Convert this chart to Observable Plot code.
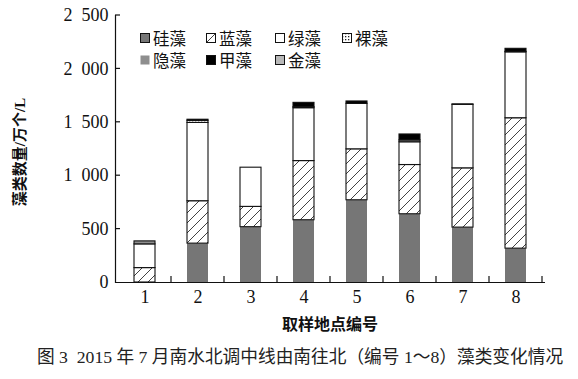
<!DOCTYPE html>
<html><head><meta charset="utf-8">
<script src="https://cdn.jsdelivr.net/npm/d3@7"></script>
<script src="https://cdn.jsdelivr.net/npm/@observablehq/plot@0.6"></script>
<style>
body{margin:0;background:#fff;}
#wrap{position:relative;width:578px;height:379px;overflow:hidden;background:#fff;}
#chart{position:absolute;left:0;top:0;}
#legend{position:absolute;left:140px;top:28px;display:grid;grid-template-columns:66px 69px 67px 67px;row-gap:2px;font-family:'Noto Sans CJK SC',sans-serif;font-size:16.5px;color:#111;}
#legend .item{display:flex;align-items:center;height:20px;white-space:nowrap;}
#legend svg{margin-right:3px;}
#ylabel{position:absolute;left:18px;top:152px;transform:translate(-50%,-50%) rotate(-90deg);font-family:'Liberation Serif','Noto Sans CJK SC',serif;font-weight:700;font-size:15px;white-space:nowrap;color:#111;}
#xlabel{position:absolute;left:330px;top:323px;transform:translate(-50%,-50%);font-family:'Noto Sans CJK SC',sans-serif;font-weight:700;font-size:16px;white-space:nowrap;color:#111;}
#caption{position:absolute;left:300px;top:355px;transform:translate(-50%,-50%);font-family:'Liberation Serif','Noto Sans CJK SC',serif;font-size:17.7px;white-space:nowrap;color:#222;}
</style></head><body>
<div id="wrap"><div id="chart"></div><div id="legend"></div>
<div id="ylabel">藻类数量/万个/L</div>
<div id="xlabel">取样地点编号</div>
<div id="caption">图 3&nbsp;&nbsp;2015 年 7 月南水北调中线由南往北（编号 1～8）藻类变化情况</div>
</div>
<script>
// ---- data ----
const sites = ["1","2","3","4","5","6","7","8"];
const types = ["硅藻","蓝藻","绿藻","裸藻","隐藻","甲藻","金藻"];
const guizao = [0, 364, 518, 583, 770, 639, 514, 317];
const lanzao = [135, 397, 190, 554, 477, 461, 555, 1221];
const lvzao  = [222, 733, 367, 495, 426, 213, 594, 617];
const luozao = [0, 20, 0, 10, 0, 0, 0, 0];
const yinzao = [28, 0, 0, 0, 0, 18, 5, 5];
const jiazao = [0, 10, 0, 40, 22, 55, 0, 28];
const jinzao = [0, 0, 0, 0, 0, 0, 0, 0];
const yTicks = [0, 500, 1000, 1500, 2000, 2500];

const fills = ["#767676","url(#hatch)","#ffffff","url(#dots)","#8e8e8e","#000000","#b8b8b8"];
const series = [guizao, lanzao, lvzao, luozao, yinzao, jiazao, jinzao];
const data = [];
sites.forEach((s, i) => types.forEach((t, j) => {
  const v = series[j][i];
  if (v > 0) data.push({site: s, type: t, value: v});
}));

const fmt = d => d >= 1000 ? `${Math.floor(d/1000)}\u2002${String(d%1000).padStart(3,"0")}` : String(d);

const plot = Plot.plot({
  width: 578, height: 310,
  marginLeft: 115, marginRight: 33, marginTop: 15, marginBottom: 28,
  style: {fontFamily: "'Liberation Serif', serif", fontSize: "18px", background: "transparent", color: "#111", overflow: "visible"},
  x: {domain: sites, paddingInner: 0.6, paddingOuter: 0.3},
  y: {domain: [0, 2500]},
  color: {domain: types, range: fills},
  opacity: {domain: [0, 1], range: [0, 1]},
  marks: [
    Plot.barY(data, Plot.stackY({
      x: "site", y: "value", fill: "type", order: types,
      stroke: "#111", strokeWidth: 1.1,
      strokeOpacity: d => d.type === "硅藻" ? 0 : 1
    })),
    Plot.axisY({ticks: yTicks, tickSize: 0, tickPadding: 7, tickFormat: fmt, label: null, fontSize: 18}),
    Plot.axisX({tickSize: 0, tickPadding: 8, label: null, fontSize: 18}),
    Plot.ruleY([0], {stroke: "#111", strokeWidth: 1.2}),
    Plot.frame({anchor: "left", stroke: "#111", strokeWidth: 1.2})
  ]
});
document.getElementById("chart").appendChild(plot);

// patterns
const svg = d3.select(plot);
const defs = svg.insert("defs", ":first-child");
const hp = defs.append("pattern").attr("id", "hatch").attr("patternUnits", "userSpaceOnUse")
  .attr("width", 10).attr("height", 10);
hp.append("rect").attr("width", 10).attr("height", 10).attr("fill", "#fff");
hp.append("path").attr("d", "M-2,2L2,-2M0,10L10,0M8,12L12,8").attr("stroke", "#111").attr("stroke-width", 0.8);
const dp = defs.append("pattern").attr("id", "dots").attr("patternUnits", "userSpaceOnUse")
  .attr("width", 3).attr("height", 3);
dp.append("rect").attr("width", 3).attr("height", 3).attr("fill", "#fff");
dp.append("rect").attr("width", 1.3).attr("height", 1.3).attr("fill", "#222");

// inner ticks
const sx = plot.scale("x"), sy = plot.scale("y");
const step = sx.step ?? (sx.range[1] - sx.range[0]) / (sites.length - 0.6 + 0.6);
const bw = sx.bandwidth;
const y0 = sy.apply(0);
const x0 = 115;
const g = svg.append("g").attr("stroke", "#111").attr("stroke-width", 1.2);
sites.forEach(s => {
  const x = sx.apply(s) + bw / 2 + step / 2;
  g.append("line").attr("x1", x).attr("x2", x).attr("y1", y0).attr("y2", y0 - 6);
});
yTicks.slice(1).forEach(t => {
  const y = sy.apply(t);
  g.append("line").attr("x1", x0).attr("x2", x0 + 5).attr("y1", y).attr("y2", y);
});

// legend
const legend = document.getElementById("legend");
types.forEach((t, j) => {
  const item = document.createElement("div");
  item.className = "item";
  const strokeAttr = (t === "隐藻") ? "" : 'stroke="#111" stroke-width="1"';
  item.innerHTML = `<svg width="10" height="10"><rect x="0.5" y="0.5" width="9" height="9" fill="${fills[j]}" ${strokeAttr}/></svg><span>${t}</span>`;
  legend.appendChild(item);
});
</script>
</body></html>
